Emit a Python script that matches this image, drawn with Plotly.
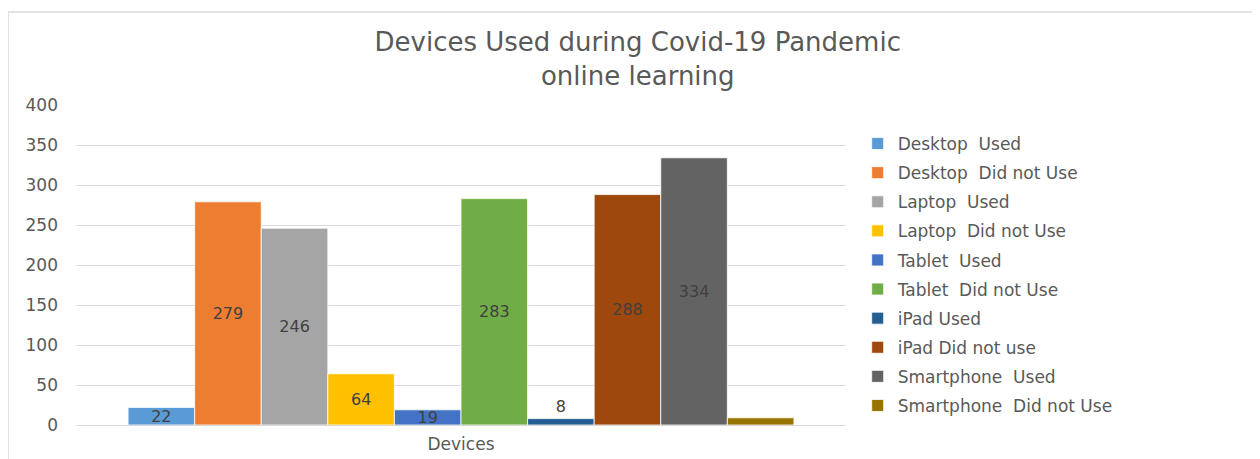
import plotly.graph_objects as go

category = ["Devices"]
series_names = [
    "Desktop  Used", "Desktop  Did not Use",
    "Laptop  Used", "Laptop  Did not Use",
    "Tablet  Used", "Tablet  Did not Use",
    "iPad Used", "iPad Did not use",
    "Smartphone  Used", "Smartphone  Did not Use",
]
series_values = [22, 279, 246, 64, 19, 283, 8, 288, 334, 9]
series_labels = ["22", "279", "246", "64", "19", "283", "8", "288", "334", ""]
colors = ["#5B9BD5", "#ED7D31", "#A5A5A5", "#FFC000", "#4472C4",
          "#70AD47", "#255E91", "#9E480E", "#636363", "#997300"]
y_ticks = [0, 50, 100, 150, 200, 250, 300, 350, 400]

FONT = "DejaVu Sans"
TXT = "#595959"

W, H = 1252, 451
L, T, PW, PH = 69, 97, 768, 320

fig = go.Figure()
for i, (name, val, lab, col) in enumerate(zip(series_names, series_values, series_labels, colors)):
    pos = "outside" if val < 10 else "inside"
    fig.add_trace(go.Bar(
        x=category, y=[val], name=name, text=[lab],
        textposition=pos, insidetextanchor="middle", constraintext="none",
        textfont=dict(family=FONT, size=16, color="#404040"),
        marker=dict(color=col, line=dict(color="#ffffff", width=0.8)),
        legendgroup=f"g{i}", cliponaxis=False,
    ))

fig.update_layout(
    width=W, height=H,
    margin=dict(l=L, r=W - L - PW, t=T, b=H - T - PH, autoexpand=False),
    paper_bgcolor="white", plot_bgcolor="white",
    barmode="group", bargap=0.133, bargroupgap=0,
    title=dict(text="Devices Used during Covid-19 Pandemic<br>online learning",
               x=0.503, xanchor="center", y=0.905, yanchor="top",
               font=dict(family=FONT, size=26, color=TXT)),
    font=dict(family=FONT, color=TXT),
    legend=dict(x=1.0165, xanchor="left", y=(PH + T - 118) / PH, yanchor="top",
                font=dict(family=FONT, size=17, color=TXT),
                tracegroupgap=4, traceorder="grouped", bgcolor="rgba(0,0,0,0)"),
    showlegend=True,
)
fig.update_xaxes(showgrid=False, showline=True, linecolor="#d9d9d9", linewidth=1,
                 ticks="", ticklabelstandoff=4, automargin=False,
                 tickfont=dict(family=FONT, size=17, color=TXT))
fig.update_yaxes(range=[0, 400], tickvals=y_ticks, showgrid=True, gridcolor="#d9d9d9",
                 gridwidth=1, zeroline=False, showline=False, ticks="", automargin=False,
                 ticklabelstandoff=18, tickfont=dict(family=FONT, size=17, color=TXT))

fig.add_shape(type="rect", xref="paper", yref="paper",
              x0=(0 - L) / PW, x1=(1251 - L) / PW,
              y0=(T + PH - 470) / PH, y1=(T + PH - 4) / PH,
              line=dict(color="#d9d9d9", width=1.5), layer="below")

fig.write_html("out.html")
